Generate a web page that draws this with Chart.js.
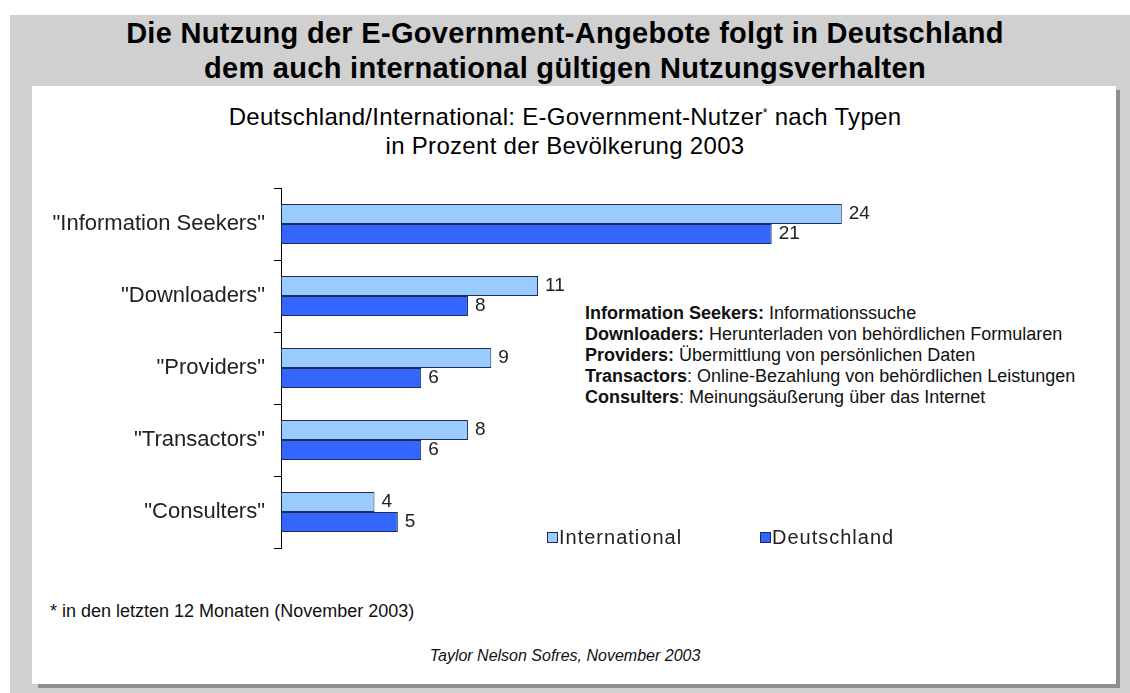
<!DOCTYPE html>
<html>
<head>
<meta charset="utf-8">
<script src="https://cdn.jsdelivr.net/npm/chart.js@4.4.1/dist/chart.umd.min.js"></script>
<style>
  html, body { margin:0; padding:0; background:#fff; width:1130px; height:693px; overflow:hidden; }
  body { position:relative; font-family:"Liberation Sans", Arial, sans-serif; }
  .abs { position:absolute; }
  #gray { left:10px; top:15px; width:1120px; height:678px; background:#d0d0d0; }
  #shadow { left:38px; top:90px; width:1082px; height:598px; background:#8e8e8e; }
  #panel { left:32px; top:86px; width:1084px; height:598px; background:#fff; }
  .title { left:0; width:1130px; text-align:center; font-weight:bold; font-size:29px; letter-spacing:0.3px; color:#000; white-space:nowrap; }
  .sub { left:0; width:1130px; text-align:center; font-size:24px; letter-spacing:0.3px; color:#000; white-space:nowrap; }
  #defs { left:585px; top:303px; font-size:18px; line-height:21px; color:#111; white-space:nowrap; }
  #foot { left:50px; top:601px; font-size:18px; color:#111; white-space:nowrap; }
  #src { left:0; width:1130px; top:647px; text-align:center; font-size:16px; font-style:italic; color:#111; }
  canvas { position:absolute; left:0; top:0; }
</style>
</head>
<body>
<div id="gray" class="abs"></div>
<div id="shadow" class="abs"></div>
<div id="panel" class="abs"></div>
<div class="abs title" style="top:17px;">Die Nutzung der E-Government-Angebote folgt in Deutschland</div>
<div class="abs title" style="top:52px;">dem auch international gültigen Nutzungsverhalten</div>
<div class="abs sub" style="top:103px;">Deutschland/International: E-Government-Nutzer<span style="font-size:12px;vertical-align:8px;">*</span> nach Typen</div>
<div class="abs sub" style="top:132px;">in Prozent der Bevölkerung 2003</div>
<div id="defs" class="abs">
  <b>Information Seekers:</b> Informationssuche<br>
  <b>Downloaders:</b> Herunterladen von behördlichen Formularen<br>
  <b>Providers:</b> Übermittlung von persönlichen Daten<br>
  <b>Transactors</b>: Online-Bezahlung von behördlichen Leistungen<br>
  <b>Consulters</b>: Meinungsäußerung über das Internet
</div>
<div id="foot" class="abs">* in den letzten 12 Monaten (November 2003)</div>
<div id="src" class="abs">Taylor Nelson Sofres, November 2003</div>
<canvas id="c" width="1130" height="693"></canvas>
<script>
const categories = ['"Information Seekers"', '"Downloaders"', '"Providers"', '"Transactors"', '"Consulters"'];
const seriesNames = ['International', 'Deutschland'];
const international = [24, 11, 9, 8, 4];
const deutschland = [21, 8, 6, 6, 5];
const xTicks = [0, 30];

const FONT = '"Liberation Sans", Arial, sans-serif';

const valueLabels = {
  id: 'valueLabels',
  afterDatasetsDraw(chart) {
    const ctx = chart.ctx;
    ctx.save();
    ctx.font = '19px ' + FONT;
    ctx.fillStyle = '#222';
    ctx.textAlign = 'left';
    ctx.textBaseline = 'middle';
    chart.data.datasets.forEach((ds, i) => {
      chart.getDatasetMeta(i).data.forEach((el, j) => {
        ctx.fillText(String(ds.data[j]), el.x + 7, el.y);
      });
    });
    ctx.restore();
  }
};

const customLegend = {
  id: 'customLegend',
  afterDraw(chart) {
    const ctx = chart.ctx;
    ctx.save();
    ctx.font = '20px ' + FONT;
    ctx.textBaseline = 'middle';
    ctx.textAlign = 'left';
    const xs = [547, 760];
    const y = 538;
    chart.data.datasets.forEach((ds, i) => {
      ctx.fillStyle = ds.backgroundColor;
      ctx.fillRect(xs[i] + 0.5, y - 5.5, 10, 10);
      ctx.strokeStyle = ds.borderColor;
      ctx.lineWidth = 1;
      ctx.strokeRect(xs[i] + 0.5, y - 5.5, 10, 10);
      ctx.fillStyle = '#222';
      if ('letterSpacing' in ctx) ctx.letterSpacing = '1px';
      ctx.fillText(ds.label, xs[i] + 12, y);
      if ('letterSpacing' in ctx) ctx.letterSpacing = '0px';
    });
    ctx.restore();
  }
};

new Chart(document.getElementById('c'), {
  type: 'bar',
  data: {
    labels: categories,
    datasets: [
      { label: seriesNames[0], data: international, backgroundColor: '#99ccff', borderColor: '#1f2a55', borderWidth: 1, borderSkipped: false },
      { label: seriesNames[1], data: deutschland, backgroundColor: '#3366ff', borderColor: '#1f2a55', borderWidth: 1, borderSkipped: false }
    ]
  },
  options: {
    indexAxis: 'y',
    responsive: false,
    animation: false,
    events: [],
    layout: { padding: { left: 0, top: 188, right: 148, bottom: 145 } },
    categoryPercentage: 40 / 72,
    barPercentage: 1,
    plugins: { legend: { display: false }, tooltip: { enabled: false }, title: { display: false } },
    scales: {
      x: { display: false, min: xTicks[0], max: xTicks[1] },
      y: {
        afterFit(s) { s.width = 281; },
        grid: { offset: true, drawOnChartArea: false, drawTicks: true, tickLength: 7, color: '#000', lineWidth: 1 },
        border: { display: true, color: '#000', width: 1 },
        ticks: { font: { family: FONT, size: 22 }, color: '#222', padding: 9 }
      }
    }
  },
  plugins: [valueLabels, customLegend]
});
</script>
</body>
</html>
